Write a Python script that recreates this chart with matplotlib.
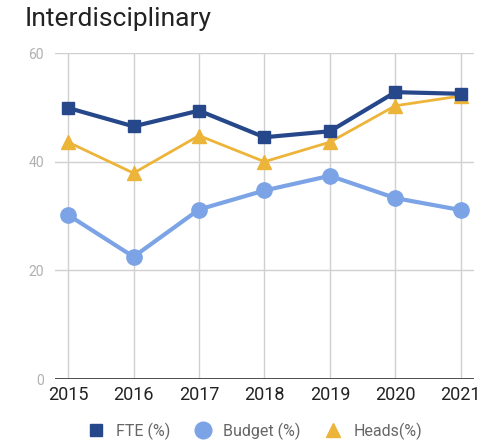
import matplotlib
matplotlib.use("Agg")
import matplotlib.pyplot as plt
from matplotlib.lines import Line2D

plt.rcParams['font.family'] = ['Roboto', 'DejaVu Sans']

years = [2015, 2016, 2017, 2018, 2019, 2020, 2021]
fte = [49.9, 46.5, 49.4, 44.5, 45.6, 52.8, 52.5]
budget = [30.2, 22.5, 31.2, 34.7, 37.4, 33.3, 31.1]
heads = [43.6, 37.9, 44.8, 40.0, 43.6, 50.3, 52.1]
yticks = [0, 20, 40, 60]

c_fte = '#26478a'
c_budget = '#7ba3e6'
c_heads = '#edb43a'

fig = plt.figure(figsize=(5.02, 4.42), dpi=100)
ax = fig.add_axes([0.1096, 0.1425, 0.8344, 0.7375])

ax.plot(years, budget, color=c_budget, lw=3, marker='o', ms=11, zorder=3)
ax.plot(years, heads, color=c_heads, lw=2, marker='^', ms=10, zorder=4)
ax.plot(years, fte, color=c_fte, lw=3, marker='s', ms=9, zorder=5)

ax.set_xlim(2014.8, 2021.2)
ax.set_ylim(0, 60)
ax.set_xticks(years)
ax.set_yticks(yticks)
ax.grid(True, color='#d0d0d0', lw=1)
ax.axhline(0, color='#333333', lw=1.2, zorder=2)
for s in ax.spines.values():
    s.set_visible(False)
ax.tick_params(length=0)
ax.tick_params(axis='y', labelcolor='#b0b0b0', labelsize=10, pad=8)
ax.tick_params(axis='x', labelcolor='#222222', labelsize=13, pad=5)

fig.text(0.05, 0.957, 'Interdisciplinary', fontsize=19, color='#222222', va='center')

handles = [
    Line2D([], [], color=c_fte, marker='s', ls='', ms=9),
    Line2D([], [], color=c_budget, marker='o', ls='', ms=12),
    Line2D([], [], color=c_heads, marker='^', ls='', ms=10),
]
leg = fig.legend(handles, ['FTE (%)', 'Budget (%)', 'Heads(%)'], loc='center',
                 bbox_to_anchor=(0.5, 0.025), ncol=3, frameon=False, fontsize=11.5,
                 handlelength=2, handletextpad=0.3, columnspacing=1.0,
                 labelcolor='#666666')

fig.savefig('out.png', dpi=100)
